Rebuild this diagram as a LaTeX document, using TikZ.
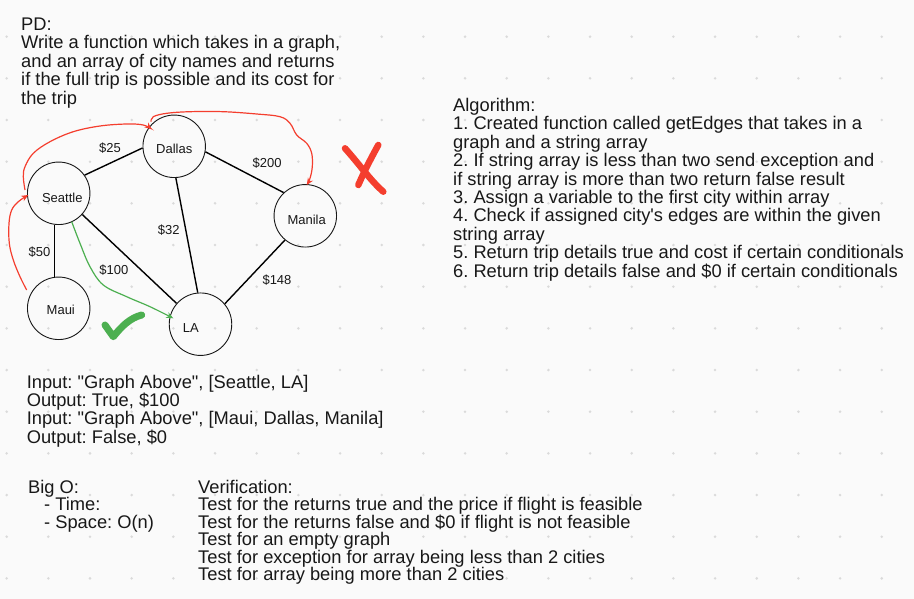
\documentclass[tikz,border=0pt]{standalone}
\usepackage{fontspec}
\setmainfont{Liberation Sans}
\usetikzlibrary{arrows.meta}
\definecolor{bg}{RGB}{250,250,250}
\definecolor{dotc}{RGB}{218,218,218}
\definecolor{ink}{RGB}{24,24,24}
\definecolor{redink}{RGB}{244,62,46}
\definecolor{greenink}{RGB}{76,175,80}
\frenchspacing
\begin{document}
\begin{tikzpicture}[x=1pt,y=-1pt,
  city/.style={circle,draw=ink,line width=0.9pt,minimum size=62.5pt,inner sep=0pt},
  citytext/.style={font=\fontsize{13pt}{15pt}\selectfont,text=ink,inner sep=0pt},
  cost/.style={font=\fontsize{13pt}{15pt}\selectfont,text=ink,inner sep=0pt},
  body/.style={font=\fontsize{18.3pt}{18pt}\selectfont,text=ink,anchor=base west,inner sep=0pt},
  edge/.style={draw=black,line width=1.4pt},
  redpath/.style={draw=redink,line width=1.2pt,-{Stealth[length=7pt,width=6pt]}},
  greenpath/.style={draw=greenink,line width=1.2pt,-{Stealth[length=7pt,width=6pt]}},
  redmark/.style={draw=redink,line width=6.5pt,line cap=round},
  greenmark/.style={draw=greenink,line width=7pt,line cap=round,line join=round}
]
\fill[bg] (0,0) rectangle (914,599);
\useasboundingbox (0,0) rectangle (914,599);
\foreach \i in {0,...,21}
  \foreach \j in {0,...,13}
    \fill[dotc] (6.67+41.67*\i, 36.67+41.67*\j) circle (1.4pt);

% problem description
\foreach \t [count=\i from 0] in {{PD:},{Write a function which takes in a graph,},{and an array of city names and returns},{if the full trip is possible and its cost for},{the trip}}
  \node[body] (pd-\i) at (21,30.5+18.4*\i) {\t};

% algorithm
\foreach \t [count=\i from 0] in {{Algorithm:},{1. Created function called getEdges that takes in a},{graph and a string array},{2. If string array is less than two send exception and},{if string array is more than two return false result},{3. Assign a variable to the first city within array},{4. Check if assigned city\textquotesingle s edges are within the given},{string array},{5. Return trip details true and cost if certain conditionals},{6. Return trip details false and \$0 if certain conditionals}}
  \node[body] (alg-\i) at (453,111.5+18.4*\i) {\t};

% examples
\foreach \t [count=\i from 0] in {{Input: \textquotedbl Graph Above\textquotedbl, [Seattle, LA]},{Output: True, \$100},{Input: \textquotedbl Graph Above\textquotedbl, [Maui, Dallas, Manila]},{Output: False, \$0}}
  \node[body] (io-\i) at (26.6,388+18.4*\i) {\t};

% big O
\node[body] (bigo) at (28,493.5) {Big O:};
\node[body] (time) at (44,510.9) {- Time:};
\node[body] (space) at (44,528.3) {- Space: O(n)};

% verification
\foreach \t [count=\i from 0] in {{Verification:},{Test for the returns true and the price if flight is feasible},{Test for the returns false and \$0 if flight is not feasible},{Test for an empty graph},{Test for exception for array being less than 2 cities},{Test for array being more than 2 cities}}
  \node[body] (ver-\i) at (198,493.5+17.4*\i) {\t};

% graph
\node[city] (Seattle) at (58.7,193.3) {};
\node[city] (Dallas) at (174.2,146.3) {};
\node[city] (Manila) at (305.3,215.8) {};
\node[city] (Maui) at (58.7,308.3) {};
\node[city] (LA) at (200.5,324.2) {};
\node[citytext] (Seattle-t) at (62.3,198) {Seattle};
\node[citytext] (Dallas-t) at (174.2,149.3) {Dallas};
\node[citytext] (Manila-t) at (306.7,220) {Manila};
\node[citytext] (Maui-t) at (60.8,310) {Maui};
\node[citytext] (LA-t) at (190.8,327.7) {LA};

\draw[edge] (Seattle.35) -- (Dallas.183);
\draw[edge] (Dallas.-10) -- (Manila.133);
\draw[edge] (Dallas.-87) -- (LA.95);
\draw[edge] (Seattle.-42) -- (LA.139);
\draw[edge] (Seattle.-98) -- (Maui.98);
\draw[edge] (Manila.-130) -- (LA.40);

\node[cost] (c25) at (110,148) {\$25};
\node[cost] (c200) at (267.2,163.3) {\$200};
\node[cost] (c32) at (168.8,230) {\$32};
\node[cost] (c50) at (39.5,251.7) {\$50};
\node[cost] (c100) at (113.8,270) {\$100};
\node[cost] (c148) at (277,280) {\$148};

% hand-drawn route marks
\draw[redpath] plot[smooth,tension=0.6] coordinates {(26.7,290) (20,276.7) (13.3,260) (9.3,243.3) (9,223.3) (11.7,210) (18.3,201.7) (28.3,195)};
\draw[redpath] plot[smooth,tension=0.6] coordinates {(25,190) (23.3,176.7) (25,166.7) (33.3,153.3) (50,141.7) (73.3,131.7) (100,126) (126.7,124) (143.3,125) (151.7,129.3)};
\draw[redpath] plot[smooth,tension=0.6] coordinates {(151,121.7) (153.3,116.7) (166.7,113.3) (190,111.7) (223.3,111.7) (256.7,114) (280,116.7) (290,123.3) (296.7,135) (306.7,143.3) (311.7,153.3) (312.3,166.7) (310,178.3) (306.7,185)};
\draw[greenpath] plot[smooth,tension=0.6] coordinates {(71.7,221.7) (80,243.3) (90,266.7) (103.3,285) (126.7,296.7) (150,306.7) (173.3,318.3)};

\draw[redmark] (345,148.3) .. controls (360,165) and (370,180) .. (383.3,191.7);
\draw[redmark] (378.3,145) .. controls (370,160) and (364,172) .. (358.3,185);
\draw[greenmark] (105,325) -- (113.3,336.7) .. controls (122,326) and (130,318) .. (141.7,315);
\end{tikzpicture}
\end{document}
